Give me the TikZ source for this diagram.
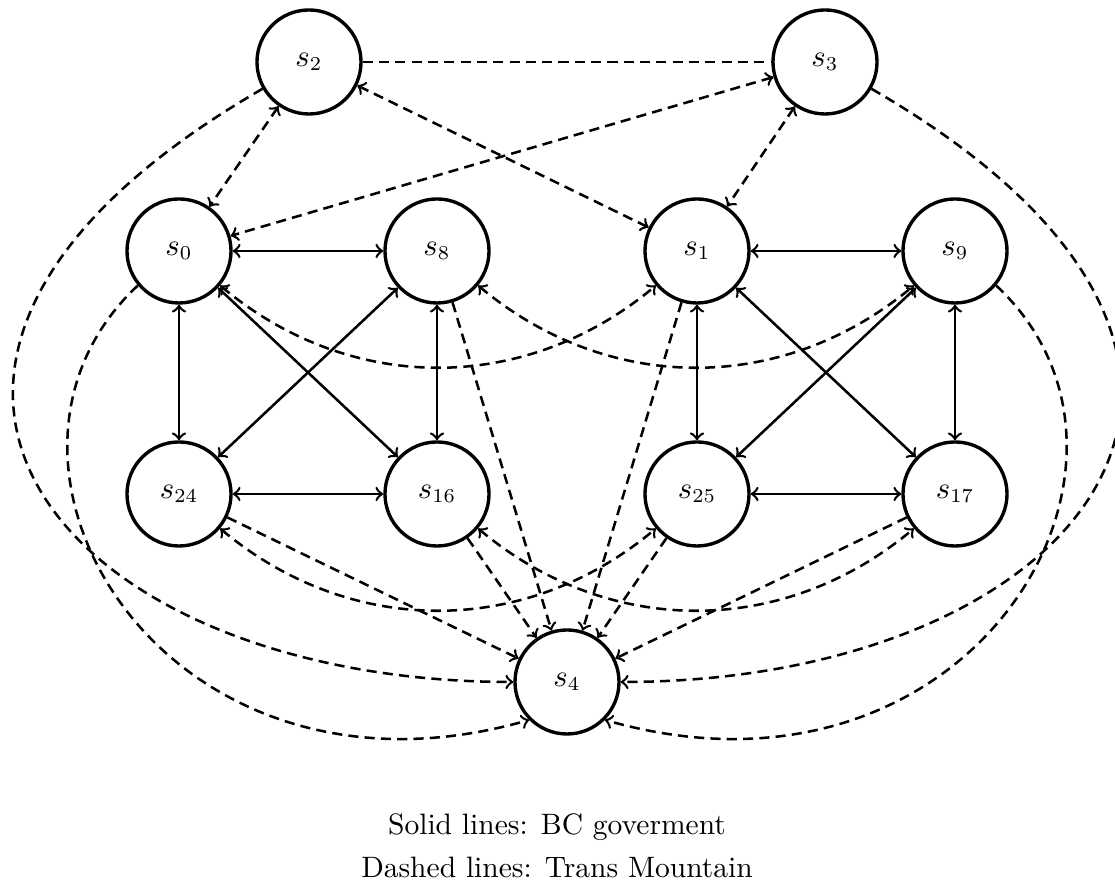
\documentclass[tikz,border=0pt]{standalone}
\begin{document}
\begin{tikzpicture}[x=0.0125cm, y=0.0125cm,
  font=\fontsize{10.5}{13}\selectfont,
  state/.style={circle, draw, line width=1.2pt, minimum size=1.3cm, inner sep=0pt},
  bc/.style={line width=0.9pt, <->, >=to},
  tm/.style={line width=0.9pt, dash pattern=on 3.6pt off 2.2pt, >=to},
]
\useasboundingbox (0,0) rectangle (1115,880);

% states
\node[state] (s2)  at (309,818) {$s_2$};
\node[state] (s3)  at (825,818) {$s_3$};
\node[state] (s0)  at (179,629) {$s_0$};
\node[state] (s8)  at (437,629) {$s_8$};
\node[state] (s1)  at (697,629) {$s_1$};
\node[state] (s9)  at (955,629) {$s_9$};
\node[state] (s24) at (179,386) {$s_{24}$};
\node[state] (s16) at (437,386) {$s_{16}$};
\node[state] (s25) at (697,386) {$s_{25}$};
\node[state] (s17) at (955,386) {$s_{17}$};
\node[state] (s4)  at (567,198) {$s_4$};

% BC government moves (solid)
\draw[bc] (s0) -- (s8);
\draw[bc] (s0) -- (s24);
\draw[bc] (s0) -- (s16);
\draw[bc] (s8) -- (s24);
\draw[bc] (s8) -- (s16);
\draw[bc] (s24) -- (s16);
\draw[bc] (s1) -- (s9);
\draw[bc] (s1) -- (s25);
\draw[bc] (s1) -- (s17);
\draw[bc] (s9) -- (s25);
\draw[bc] (s9) -- (s17);
\draw[bc] (s25) -- (s17);

% Trans Mountain moves (dashed)
\draw[tm] (s2) -- (s3);
\draw[tm,<->] (s2) -- (s0);
\draw[tm,<->] (s2) -- (s1);
\draw[tm,<->] (s3) -- (s0);
\draw[tm,<->] (s3) -- (s1);

\draw[tm,<->] (s0) to[bend right=40] (s1);
\draw[tm,<->] (s8) to[bend right=40] (s9);
\draw[tm,<->] (s24) to[bend right=40] (s25);
\draw[tm,<->] (s16) to[bend right=40] (s17);

\draw[tm,->] (s24) -- (s4);
\draw[tm,->] (s16) -- (s4);
\draw[tm,->] (s8) -- (s4);
\draw[tm,->] (s1) -- (s4);
\draw[tm,->] (s25) -- (s4);
\draw[tm,->] (s17) -- (s4);

\draw[tm,->] (s2) to[out=210, in=180, out distance=6.875cm, in distance=5.66cm] (s4);
\draw[tm,->] (s3) to[out=-30, in=0, out distance=6.875cm, in distance=5.66cm] (s4);
\draw[tm,->] (s0.-140) to[out=223, in=196, out distance=3.25cm, in distance=4.75cm] (s4.-135);
\draw[tm,->] (s9.-40) to[out=-43, in=-16, out distance=3.25cm, in distance=4.75cm] (s4.-45);

% legend
\node[anchor=base] (cap1) at (557,45) {Solid lines: BC goverment};
\node[anchor=base] (cap2) at (557,2) {Dashed lines: Trans Mountain};
\end{tikzpicture}
\end{document}
